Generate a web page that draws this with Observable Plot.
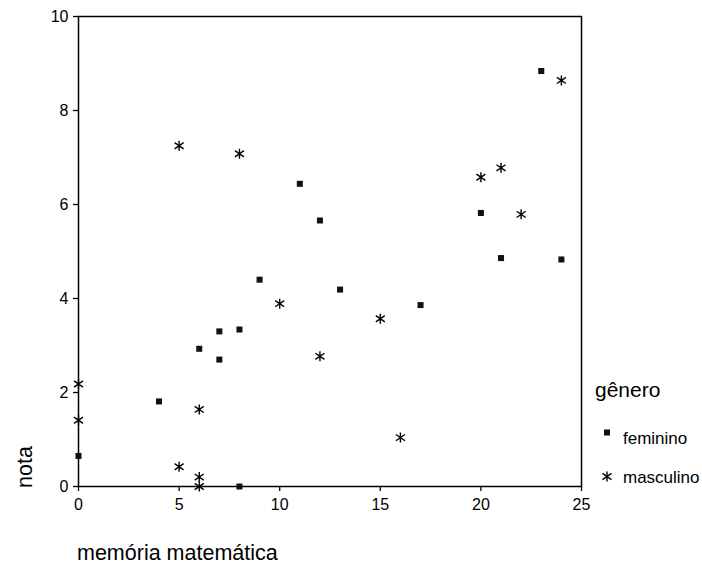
<!DOCTYPE html>
<html><head><meta charset="utf-8">
<script src="https://cdn.jsdelivr.net/npm/d3@7"></script>
<script src="https://cdn.jsdelivr.net/npm/@observablehq/plot@0.6"></script>
<style>
body{margin:0;background:#fff;}
#wrap{position:relative;width:702px;height:566px;}
</style></head><body><div id="wrap"></div>
<script>
const xTicks = [0, 5, 10, 15, 20, 25];
const yTicks = [0, 2, 4, 6, 8, 10];
const generos = ["feminino", "masculino"];
const femX = [0, 4, 6, 7, 7, 8, 8, 9, 11, 12, 13, 17, 20, 21, 23, 24];
const femY = [0.65, 1.81, 2.93, 3.30, 2.70, 3.34, 0, 4.40, 6.44, 5.66, 4.19, 3.86, 5.82, 4.86, 8.84, 4.83];
const masX = [0, 0, 5, 5, 6, 6, 6, 8, 10, 12, 15, 16, 20, 21, 22, 24];
const masY = [2.18, 1.41, 0.42, 7.25, 1.64, 0.2, 0, 7.08, 3.89, 2.77, 3.57, 1.04, 6.58, 6.78, 5.79, 8.64];
const xLabel = "memória matemática";
const yLabel = "nota";
const legendTitle = "gênero";

const FONT = '"Liberation Sans", Arial, Helvetica, sans-serif';
const fem = femX.map((x, i) => ({x, y: femY[i], g: generos[0]}));
const mas = masX.map((x, i) => ({x, y: masY[i], g: generos[1]}));

const asterisk = {
  draw(ctx, size) {
    const r = Math.sqrt(size / Math.PI);
    const a = r * 0.9, b = r * 0.62;
    ctx.moveTo(0, -r); ctx.lineTo(0, r);
    ctx.moveTo(-a, -b); ctx.lineTo(a, b);
    ctx.moveTo(-a, b); ctx.lineTo(a, -b);
  }
};

const chart = Plot.plot({
  width: 702, height: 566,
  marginLeft: 78, marginRight: 121, marginTop: 16, marginBottom: 80,
  style: {fontFamily: FONT, fontSize: "16px", color: "#000", background: "#fff", overflow: "visible"},
  x: {domain: [0, 25], label: null},
  y: {domain: [0, 10], label: null},
  marks: [
    Plot.axisX({ticks: xTicks, tickSize: 5, tickPadding: 7, label: null, strokeWidth: 1.3}),
    Plot.axisY({ticks: yTicks, tickSize: 5, tickPadding: 5, label: null, strokeWidth: 1.3}),
    Plot.frame({stroke: "#000", strokeWidth: 1.5}),
    Plot.dot(fem, {x: "x", y: "y", symbol: "square", r: 3.4, fill: "#111", stroke: "none"}),
    Plot.dot(mas, {x: "x", y: "y", symbol: asterisk, r: 5, fill: "none", stroke: "#000", strokeWidth: 1.4})
  ]
});

const svg = d3.select(chart);
svg.append("text").text(xLabel)
  .attr("x", 77).attr("y", 560).attr("text-anchor", "start")
  .attr("font-size", 21.5).attr("font-family", FONT).attr("fill", "#000");
svg.append("text").text(yLabel)
  .attr("transform", "translate(31.5,488) rotate(-90)").attr("text-anchor", "start")
  .attr("font-size", 21.5).attr("font-family", FONT).attr("fill", "#000");

const lg = svg.append("g").attr("font-family", FONT).attr("fill", "#000").attr("text-anchor", "start");
lg.append("text").text(legendTitle).attr("x", 595).attr("y", 397).attr("font-size", 21);
const legendSyms = [
  {path: d3.symbol(d3.symbolSquare, 3.4 * 3.4 * Math.PI)(), fill: "#111", stroke: "none", cy: 432.5, ty: 444},
  {path: d3.symbol(asterisk, 25 * Math.PI)(), fill: "none", stroke: "#000", cy: 476.5, ty: 483}
];
generos.forEach((g, i) => {
  const s = legendSyms[i];
  lg.append("path").attr("d", s.path).attr("transform", `translate(607,${s.cy})`)
    .attr("fill", s.fill).attr("stroke", s.stroke).attr("stroke-width", 1.4);
  lg.append("text").text(g).attr("x", 623).attr("y", s.ty).attr("font-size", 17);
});

document.getElementById("wrap").appendChild(chart);
</script>
</body></html>
